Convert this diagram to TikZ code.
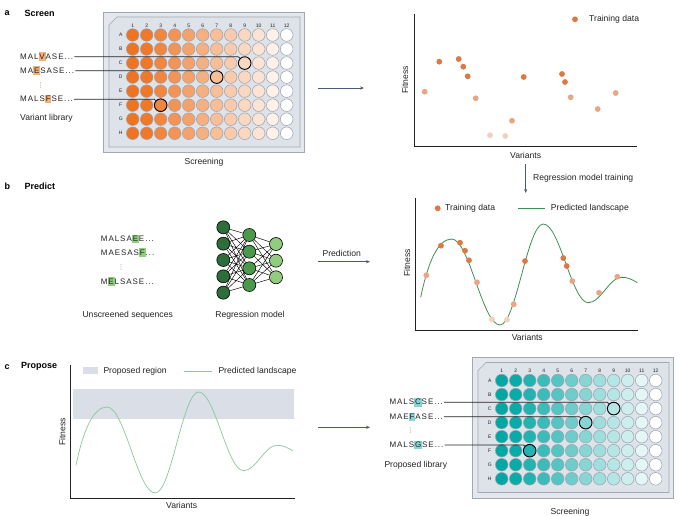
\documentclass[tikz,border=0pt]{standalone}
\usepackage{fontspec}
\setmainfont{Liberation Sans}
\newfontfamily\seqfont[LetterSpace=12]{Liberation Sans}
\newfontfamily\symfont{DejaVu Sans}
\usetikzlibrary{arrows.meta,calc}
\definecolor{orw}{HTML}{EE7422}
\definecolor{tlw}{HTML}{00A8A4}
\definecolor{plateout}{HTML}{E4E7ED}
\definecolor{platein}{HTML}{DEE2E9}
\definecolor{plateedge}{HTML}{A0A8B5}
\definecolor{welledge}{HTML}{9AA2AF}
\definecolor{dkor}{HTML}{DD7744}
\definecolor{ltor}{HTML}{E9A585}
\definecolor{vlor}{HTML}{F2D0BE}
\definecolor{arrowc}{HTML}{4A5B7A}
\definecolor{curveb}{HTML}{3F8F50}
\definecolor{curvec}{HTML}{8CC69B}
\definecolor{region}{HTML}{D9DEE7}
\definecolor{hlor}{HTML}{F4B079}
\definecolor{hlgr}{HTML}{8FD07E}
\definecolor{hltl}{HTML}{86D5D5}
\definecolor{nnA}{HTML}{2D6E3B}
\definecolor{nnB}{HTML}{4B9A4C}
\definecolor{nnC}{HTML}{92CC7E}
\definecolor{txt}{HTML}{222222}
\newcommand\hl[2]{\sbox0{#2}\kern0.9pt\makebox[0pt][l]{\hspace{-0.7pt}\textcolor{#1}{\rule[-1.6pt]{\dimexpr\wd0+1.4pt\relax}{8.4pt}}}#2\kern0.9pt}
\tikzset{
  lbl/.style={inner sep=0pt, text=txt, font=\fontsize{8.6}{10}\selectfont},
  head/.style={inner sep=0pt, text=black, font=\fontsize{9}{10}\selectfont\bfseries, anchor=west},
  seq/.style={inner sep=1pt, anchor=west, text=txt, font=\fontsize{8}{9}\seqfont},
  vd/.style={inner sep=0pt, text=gray, font=\fontsize{6.5}{7}\symfont},
  plab/.style={inner sep=0pt, text=txt, font=\fontsize{5}{6}\selectfont},
  well/.style={circle, minimum size=12.6pt, inner sep=0pt, draw=welledge, line width=0.5pt},
  pick/.style={circle, minimum size=12.6pt, inner sep=0pt, draw=black, line width=0.9pt},
  dot/.style={circle, minimum size=5.8pt, inner sep=0pt},
  axis/.style={draw=txt, line width=0.8pt},
  flow/.style={draw=arrowc, line width=0.8pt, -{Stealth[length=4pt,width=3.2pt]}},
  link/.style={draw=txt, line width=0.7pt},
  neuron/.style={circle, minimum size=13pt, inner sep=0pt, draw=black, line width=0.6pt},
}
\newcommand\myplate[3]{%
\begin{scope}[shift={#3}]
\draw[draw=plateedge, fill=plateout, line width=0.7pt] (0,0) rectangle (201,140.5);
\draw[draw=plateedge, fill=platein, line width=0.6pt] (5.5,13) -- (13.5,5) -- (196.5,5) -- (196.5,135) -- (5.5,135) -- cycle;
\foreach \ci in {1,...,12} \node[plab] at ({29.2+(\ci-1)*14},13.5) {\ci};
\foreach \rl [count=\ri] in {A,B,C,D,E,F,G,H} \node[plab] at (17.2,{23+(\ri-1)*14.04}) {\rl};
\foreach \ci/\fr in {1/100,2/97,3/87,4/77,5/67,6/57,7/47,8/38,9/29,10/20,11/10,12/0}
  \foreach \ri in {1,...,8}
    \node[well, fill=#2!\fr!white] (#1-\ri-\ci) at ({29.2+(\ci-1)*14},{23+(\ri-1)*14.04}) {};
\end{scope}}
\begin{document}
\begin{tikzpicture}[x=1pt,y=-1pt]
\useasboundingbox (0,0) rectangle (681,516);

% ================= panel a =================
\node[head] (la) at (4.5,13) {a};
\node[head] (ta) at (24.5,13) {Screen};
\myplate{a}{orw}{(103.5,12)}
\node[pick, fill=orw!29!white] at (a-3-9) {};
\node[pick, fill=orw!47!white] at (a-4-7) {};
\node[pick, fill=orw!87!white] at (a-6-3) {};
\node[seq] (sa1) at (19,56.7) {MAL\hl{hlor}{V}ASE...};
\node[seq] (sa2) at (19,70.7) {MA\hl{hlor}{E}SASE...};
\node[vd] (sav) at (40.7,85) {⋮};
\node[seq] (sa3) at (19,99.3) {MALS\hl{hlor}{F}SE...};
\node[lbl, anchor=west] (vlib) at (20,118) {Variant library};
\draw[link] (sa1.east) -- (sa1.east -| a-3-9.west) -- (a-3-9.135);
\draw[link] (sa2.east) -- (sa2.east -| a-4-7.west) -- (a-4-7.135);
\draw[link] (sa3.east) -- (sa3.east -| a-6-3.west) -- (a-6-3.135);
\node[lbl] (scra) at (204,162) {Screening};
\coordinate (arA1) at (318,88);
\coordinate (arA2) at (364,88);
\draw[flow] (arA1) -- (arA2);

% plot a
\coordinate (pa0) at (414,146);
\coordinate (paT) at (414,14);
\coordinate (paR) at (637,146);
\draw[axis] (paT) -- (pa0) -- (paR);
\node[lbl, rotate=90] (fita) at (405,80) {Fitness};
\node[lbl] (vara) at (525.7,155) {Variants};
\node[dot, fill=dkor] (lega) at (575,19.3) {};
\node[lbl, anchor=west] (legat) at (589,19.3) {Training data};
\foreach \px/\py/\cl [count=\k] in {424.7/91.7/ltor, 439.3/61.7/dkor, 458.7/59/dkor, 463.3/66.7/dkor, 467.7/76.3/dkor, 475.7/98.3/ltor, 490/135.3/vlor, 505.3/136/vlor, 512/120.7/ltor, 523.7/77/dkor, 562/74/dkor, 565/82/dkor, 570.7/97.3/ltor, 597.7/109/ltor, 615.7/93/ltor}
  \node[dot, fill=\cl] (da\k) at (\px,\py) {};
\coordinate (arB1) at (525.7,164);
\coordinate (arB2) at (525.7,193);
\draw[flow] (arB1) -- (arB2);
\node[lbl, anchor=west] (regt) at (533,178.7) {Regression model training};

% ================= panel b =================
\node[head] (lb) at (4.5,186) {b};
\node[head] (tb) at (24.5,186) {Predict};
\node[seq] (sb1) at (99.7,239.3) {MALSA\hl{hlgr}{E}E...};
\node[seq] (sb2) at (99.7,252.7) {MAESAS\hl{hlgr}{F}...};
\node[vd] (sbv) at (121,267) {⋮};
\node[seq] (sb3) at (99.7,281.7) {M\hl{hlgr}{E}LSASE...};
\node[lbl] (unsc) at (127.7,315) {Unscreened sequences};
\node[lbl] (regm) at (250,315) {Regression model};
% network
\foreach \yy [count=\k] in {227.3,243.7,260,276.3,292.7}
  \node[neuron, fill=nnA] (nA\k) at (223.3,\yy) {};
\foreach \yy [count=\k] in {235,251.7,268.3,285}
  \node[neuron, fill=nnB] (nB\k) at (249.3,\yy) {};
\foreach \yy [count=\k] in {244,260.7,277.3}
  \node[neuron, fill=nnC] (nC\k) at (276,\yy) {};
\foreach \i in {1,...,5} \foreach \j in {1,...,4} \draw[black, line width=0.45pt] (nA\i) -- (nB\j);
\foreach \i in {1,...,4} \foreach \j in {1,...,3} \draw[black, line width=0.45pt] (nB\i) -- (nC\j);
\coordinate (arC1) at (317.7,261.7);
\coordinate (arC2) at (370,261.7);
\draw[flow] (arC1) -- (arC2);
\node[lbl] (predt) at (341.7,253.3) {Prediction};

% plot b
\coordinate (pb0) at (415.7,330);
\coordinate (pbT) at (415.7,198);
\coordinate (pbR) at (638,330);
\draw[axis] (pbT) -- (pb0) -- (pbR);
\node[lbl, rotate=90] (fitb) at (407,263) {Fitness};
\node[lbl] (varb) at (527.3,337.5) {Variants};
\node[dot, fill=dkor] (legb) at (437.7,208.3) {};
\node[lbl, anchor=west] (legbt) at (445,208.3) {Training data};
\coordinate (legl1) at (518.3,208.3);
\coordinate (legl2) at (545,208.3);
\draw[curveb, line width=0.8pt] (legl1) -- (legl2);
\node[lbl, anchor=west] (legbp) at (550.7,208.3) {Predicted landscape};
\draw[curveb, line width=0.8pt] (420.7,297.3) .. controls (428,262) and (438,239) .. (451.7,239) .. controls (469.3,239) and (482.4,325) .. (500,325) .. controls (515.8,325) and (527.5,224) .. (543.3,224) .. controls (559.7,224) and (571.9,302.7) .. (588.3,302.7) .. controls (600.5,302.7) and (609.5,277.3) .. (621.7,277.3) .. controls (628,277.3) and (632,279.5) .. (637.3,282.7);
\foreach \px/\py/\cl [count=\k] in {426.3/275.3/ltor, 441/245.7/dkor, 460/242.7/dkor, 465/250.7/dkor, 469/260.3/dkor, 477/282.3/ltor, 492/319.3/vlor, 507/319.7/vlor, 513.7/304.3/ltor, 525/261/dkor, 563.3/258/dkor, 566.7/266/dkor, 572.3/281/ltor, 599/292.7/ltor, 617.3/276.7/ltor}
  \node[dot, fill=\cl] (db\k) at (\px,\py) {};

% ================= panel c =================
\node[head] (lc) at (4.5,366.7) {c};
\node[head] (tc) at (21,366.7) {Propose};
\fill[region] (72.7,389.3) rectangle (294,419);
\coordinate (pc0) at (70.7,498.3);
\coordinate (pcT) at (70.7,365);
\coordinate (pcR) at (294.7,498.3);
\draw[axis] (pcT) -- (pc0) -- (pcR);
\node[lbl, rotate=90] (fitc) at (62.3,431.7) {Fitness};
\node[lbl] (varc) at (181.7,505.7) {Variants};
\node[fill=region, minimum width=15.6pt, minimum height=7.6pt, inner sep=0pt] (legcr) at (90.5,370.5) {};
\node[lbl, anchor=west] (legcrt) at (103.3,371) {Proposed region};
\coordinate (legc1) at (184.3,371);
\coordinate (legc2) at (211.7,371);
\draw[curvec, line width=0.7pt] (legc1) -- (legc2);
\node[lbl, anchor=west] (legcpt) at (218.3,371) {Predicted landscape};
\draw[curvec, line width=0.7pt] (76,465.3) .. controls (83.3,430) and (93.3,407) .. (107,407) .. controls (124.6,407) and (137.7,493) .. (155.3,493) .. controls (171.1,493) and (182.8,392) .. (198.6,392) .. controls (215,392) and (227.2,470.7) .. (243.6,470.7) .. controls (255.8,470.7) and (264.8,445.3) .. (277,445.3) .. controls (283.3,445.3) and (287.3,447.5) .. (292.6,450.7);
\coordinate (arD1) at (318,427.3);
\coordinate (arD2) at (370,427.3);
\draw[flow] (arD1) -- (arD2);

\myplate{c}{tlw}{(472.5,357.5)}
\node[pick, fill=tlw!29!white] at (c-3-9) {};
\node[pick, fill=tlw!47!white] at (c-4-7) {};
\node[pick, fill=tlw!87!white] at (c-6-3) {};
\node[seq] (sc1) at (388.3,402.3) {MALS\hl{hltl}{C}SE...};
\node[seq] (sc2) at (388.3,416.7) {MAE\hl{hltl}{F}ASE...};
\node[vd] (scv) at (410.7,430.5) {⋮};
\node[seq] (sc3) at (388.3,445) {MALS\hl{hltl}{G}SE...};
\node[lbl, anchor=west] (plib) at (384.3,465.3) {Proposed library};
\draw[link] (sc1.east) -- (sc1.east -| c-3-9.west) -- (c-3-9.135);
\draw[link] (sc2.east) -- (sc2.east -| c-4-7.west) -- (c-4-7.135);
\draw[link] (sc3.east) -- (sc3.east -| c-6-3.west) -- (c-6-3.135);
\node[lbl] (scrc) at (570,512.5) {Screening};
\end{tikzpicture}
\end{document}
